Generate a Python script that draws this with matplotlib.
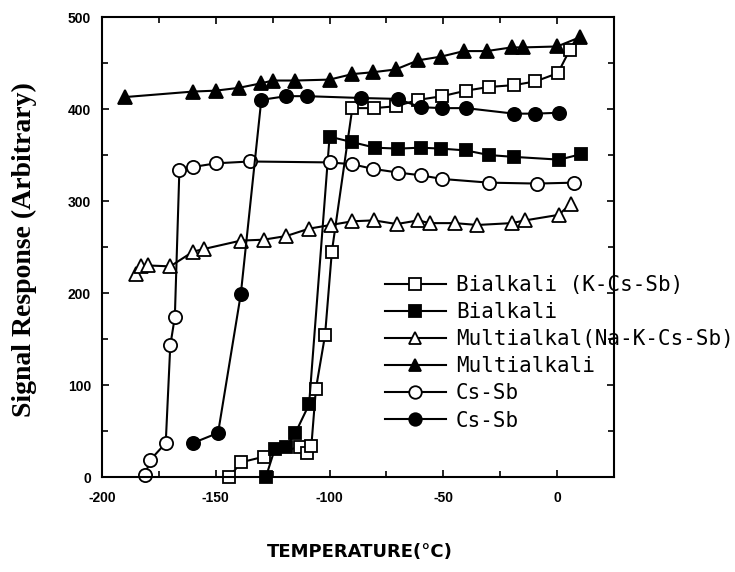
import numpy as np
import matplotlib.pyplot as plt
from matplotlib.ticker import MultipleLocator, FixedLocator

plt.rcParams['axes.unicode_minus'] = False

# Bialkali (K-Cs-Sb), open squares
bk_open_t = [-144, -139, -129, -113, -110, -108, -106, -102, -99, -90, -80.5, -71, -61,
             -50.5, -40, -30, -19, -9.6, 0.3, 5.5]
bk_open_s = [0, 16, 22, 33, 26, 34, 96, 154, 245, 401, 401, 403, 410, 414, 420, 424, 426,
             430, 439, 464]

# Bialkali, filled squares
bk_fill_t = [-128, -124, -119, -115, -109, -100, -90, -80, -70, -60, -51, -40, -30, -19, 1, 10.5]
bk_fill_s = [0, 31, 33, 48, 79, 370, 364, 358, 357, 358, 357, 355, 350, 348, 345, 351]

# Multialkal (Na-K-Cs-Sb), open triangles
ma_open_t = [-185, -183, -180, -170, -160, -155, -139, -129, -119, -109, -99.5, -90, -80.5,
             -70.5, -61, -56, -45, -35, -20, -14, 0.7, 6]
ma_open_s = [221, 229, 230, 229, 245, 248, 257, 258, 262, 270, 274, 278, 279, 275, 279, 276,
             276, 274, 276, 279, 285, 297]

# Multialkali, filled triangles
ma_fill_t = [-190, -160, -150, -140, -130, -125, -115, -100, -90, -81, -71, -61, -51, -41,
             -31, -20, -15, 0, 10]
ma_fill_s = [413, 419, 420, 423, 428, 431, 431, 432, 438, 440, 443, 453, 457, 463, 463, 467,
             467, 468, 478]

# Cs-Sb, open circles
cs_open_t = [-181, -179, -172, -170, -168, -166, -160, -150, -135, -100, -90, -81, -70, -60,
             -50.5, -30, -9, 7.5]
cs_open_s = [2, 18, 37, 143, 174, 334, 337, 341, 343, 342, 340, 335, 331, 328, 324, 320, 319, 320]

# Cs-Sb, filled circles
cs_fill_t = [-160, -149, -139, -130, -119, -110, -86, -70, -60, -50.5, -40, -19, -9.6, 1]
cs_fill_s = [37, 48, 199, 410, 414, 414, 412, 411, 402, 401, 401, 395, 395, 396]

labels = ['Bialkali (K-Cs-Sb)', 'Bialkali', 'Multialkal(Na-K-Cs-Sb)', 'Multialkali',
          'Cs-Sb', 'Cs-Sb']
xticks = [-200, -150, -100, -50, 0]
yticks = [0, 100, 200, 300, 400, 500]

fig = plt.figure(figsize=(7.35, 5.72), dpi=100)
ax = fig.add_axes([0.1388, 0.166, 0.6966, 0.8042])

lw = 1.5
mew = 1.3
series = [
    (bk_open_t, bk_open_s, 's', 'white', 8.5),
    (bk_fill_t, bk_fill_s, 's', 'black', 8.5),
    (ma_open_t, ma_open_s, '^', 'white', 9.5),
    (ma_fill_t, ma_fill_s, '^', 'black', 9.5),
    (cs_open_t, cs_open_s, 'o', 'white', 9.5),
    (cs_fill_t, cs_fill_s, 'o', 'black', 9.5),
]
for (t, s, m, fc, ms), lab in zip(series, labels):
    ax.plot(t, s, color='black', lw=lw, marker=m, ms=ms, mfc=fc, mec='black', mew=mew,
            label=lab, clip_on=False)

ax.set_xlim(-200, 25)
ax.set_ylim(0, 500)
ax.xaxis.set_major_locator(FixedLocator(xticks))
ax.xaxis.set_minor_locator(MultipleLocator(25))
ax.yaxis.set_major_locator(FixedLocator(yticks))
ax.yaxis.set_minor_locator(MultipleLocator(50))
ax.set_xticklabels([str(v) for v in xticks], fontfamily='Liberation Sans', fontweight='bold',
                   fontsize=10)
ax.set_yticklabels([str(v) for v in yticks], fontfamily='Liberation Sans', fontweight='bold',
                   fontsize=10)
ax.tick_params(which='both', direction='in', top=True, right=True, width=1.2)
ax.tick_params(which='major', length=5, pad=8)
ax.tick_params(axis='x', which='major', pad=10)
ax.tick_params(which='minor', length=4)
for sp in ax.spines.values():
    sp.set_linewidth(1.5)

fig.text(0.033, 0.563, 'Signal Response (Arbitrary)', rotation=90, ha='center', va='center',
         fontfamily='Liberation Serif', fontweight='bold', fontsize=20)
fig.text(0.49, 0.035, 'TEMPERATURE(°C)', ha='center', va='center',
         fontfamily='DejaVu Sans', fontweight='bold', fontsize=13)

ax.legend(loc='upper left', bbox_to_anchor=(0.524, 0.519), bbox_transform=fig.transFigure,
          frameon=False, borderpad=0, borderaxespad=0, handlelength=2.9, handletextpad=0.5,
          labelspacing=0.34, prop={'family': 'DejaVu Sans Mono', 'size': 15},
          markerscale=0.95)

fig.savefig('out.png', dpi=100)
